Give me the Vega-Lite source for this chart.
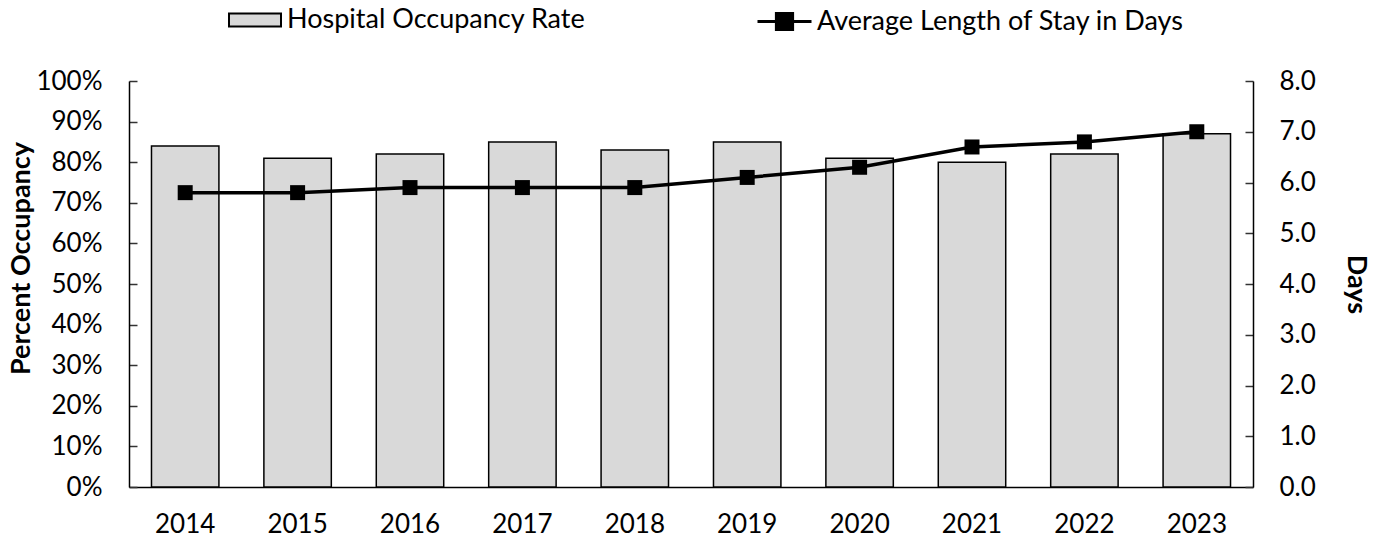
{
  "$schema": "https://vega.github.io/schema/vega-lite/v6.json",
  "width": 1124,
  "height": 406,
  "autosize": {"type": "none"},
  "padding": {"left": 129, "top": 81, "right": 133, "bottom": 50},
  "background": "white",
  "config": {
    "font": "Lato",
    "view": {"stroke": null},
    "axis": {"labelFont": "Lato", "labelFontSize": 26, "labelColor": "black", "titleFont": "Lato", "titleFontSize": 27, "titleFontWeight": "bold", "titleColor": "black", "domainColor": "black", "domainWidth": 1.5, "tickColor": "#333333", "tickWidth": 1.5, "grid": false},
    "legend": {"labelFont": "Lato", "labelFontSize": 27, "labelColor": "black", "labelLimit": 0}
  },
  "data": {"values": [
    {"year": "2014", "occ": 0.84, "days": 5.8},
    {"year": "2015", "occ": 0.81, "days": 5.8},
    {"year": "2016", "occ": 0.82, "days": 5.9},
    {"year": "2017", "occ": 0.85, "days": 5.9},
    {"year": "2018", "occ": 0.83, "days": 5.9},
    {"year": "2019", "occ": 0.85, "days": 6.1},
    {"year": "2020", "occ": 0.81, "days": 6.3},
    {"year": "2021", "occ": 0.80, "days": 6.7},
    {"year": "2022", "occ": 0.82, "days": 6.8},
    {"year": "2023", "occ": 0.87, "days": 7.0}
  ]},
  "encoding": {
    "x": {"field": "year", "type": "nominal", "title": null,
      "scale": {"paddingInner": 0.4, "paddingOuter": 0.2},
      "axis": {"labelAngle": 0, "ticks": false, "labelPadding": 24}}
  },
  "layer": [
    {
      "mark": {"type": "bar", "stroke": "black", "strokeWidth": 1.5},
      "encoding": {
        "y": {"field": "occ", "type": "quantitative", "title": "Percent Occupancy",
          "scale": {"domain": [0, 1], "nice": false},
          "axis": {"format": ".0%", "values": [0,0.1,0.2,0.3,0.4,0.5,0.6,0.7,0.8,0.9,1.0], "tickSize": -8, "labelPadding": 35, "titlePadding": 0, "titleY": 177}},
        "fill": {"datum": "Hospital Occupancy Rate", "type": "nominal",
          "scale": {"range": ["#d9d9d9"]},
          "legend": {"title": null, "orient": "none", "legendX": 99, "legendY": -88,
            "symbolType": "M-1,-0.25H1V0.25H-1Z", "symbolSize": 2704,
            "symbolStrokeColor": "black", "symbolStrokeWidth": 2, "labelOffset": 5}}
      }
    },
    {
      "encoding": {
        "y": {"field": "days", "type": "quantitative", "title": "Days",
          "scale": {"domain": [0, 8], "nice": false},
          "axis": {"orient": "right", "format": ".1f", "values": [0,1,2,3,4,5,6,7,8], "tickSize": -8, "labelPadding": 34, "titleAngle": 90, "titlePadding": 26}}
      },
      "layer": [
        {
          "mark": {"type": "line", "color": "black", "strokeWidth": 3.5},
          "encoding": {
            "stroke": {"datum": "Average Length of Stay in Days", "type": "nominal",
              "scale": {"range": ["black"]},
              "legend": {"title": null, "orient": "none", "legendX": 627, "legendY": -88,
                "symbolType": "M-1,0H1M-0.3,-0.3H0.3V0.3H-0.3Z", "symbolSize": 2916,
                "symbolFillColor": "black", "symbolStrokeColor": "black", "symbolStrokeWidth": 3, "labelOffset": 4}}
          }
        },
        {
          "mark": {"type": "point", "shape": "square", "filled": true, "color": "black", "size": 225, "opacity": 1}
        }
      ]
    }
  ],
  "resolve": {"scale": {"y": "independent"}}
}
